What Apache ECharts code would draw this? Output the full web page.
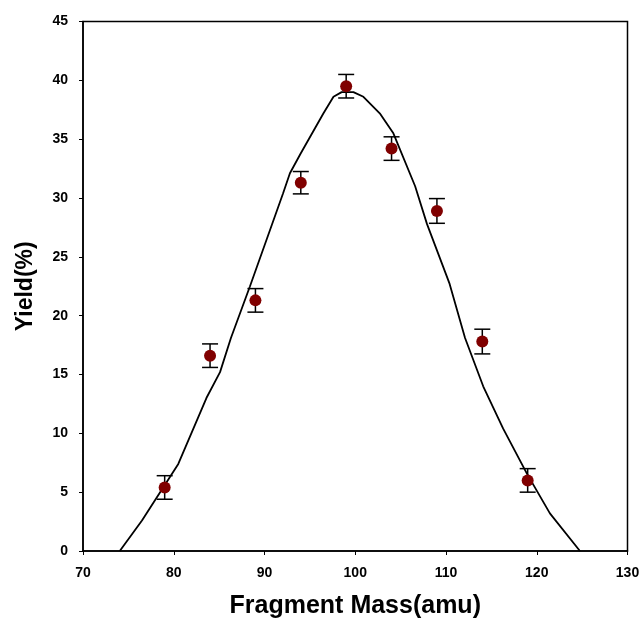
<!DOCTYPE html>
<html>
<head>
<meta charset="utf-8">
<script src="https://cdn.jsdelivr.net/npm/echarts@6/dist/echarts.min.js"></script>
<style>
html,body{margin:0;padding:0;background:#fff;}
#chart{width:641px;height:620px;}
</style>
</head>
<body>
<div id="chart"></div>
<script>
// Measured data points
var massValues = [79, 84, 89, 94, 99, 104, 109, 114, 119];
var yieldValues = [5.4, 16.6, 21.3, 31.3, 39.5, 34.2, 28.9, 17.8, 6.0];
var yieldErrors = [1.0, 1.0, 1.0, 0.95, 1.0, 1.0, 1.05, 1.05, 1.0];

// Calculated curve
var curveMass = [74.05, 76.5, 80.5, 83.6, 85.1, 86.3, 88.4, 92.05, 92.8, 94.0, 96.5, 97.6, 98.5, 99.8, 100.9, 102.7, 104.2, 106.6, 107.9, 110.4, 112.1, 114.1, 116.3, 118.9, 121.45, 124.76];
var curveYield = [0, 2.6, 7.4, 13.0, 15.2, 18.1, 22.5, 30.4, 32.1, 33.8, 37.2, 38.6, 39.0, 39.0, 38.6, 37.2, 35.5, 31.0, 27.8, 22.7, 18.1, 14.0, 10.4, 6.6, 3.2, 0];

var xTicks = { min: 70, max: 130, interval: 10 };
var yTicks = { min: 0, max: 45, interval: 5 };

var curveData = curveMass.map(function (m, i) { return [m, curveYield[i]]; });
var pointData = massValues.map(function (m, i) { return [m, yieldValues[i]]; });
var errData = massValues.map(function (m, i) { return [m, yieldValues[i] - yieldErrors[i], yieldValues[i] + yieldErrors[i]]; });

var chart = echarts.init(document.getElementById('chart'), null, { renderer: 'canvas' });
var labelFont = { fontFamily: 'Liberation Sans, Arial, sans-serif', fontWeight: 'bold', fontSize: 14, color: '#000' };
var yTitleFont = { fontFamily: 'Liberation Sans, Arial, sans-serif', fontWeight: 'bold', fontSize: 23, color: '#000' };
var xTitleFont = { fontFamily: 'Liberation Sans, Arial, sans-serif', fontWeight: 'bold', fontSize: 25, color: '#000' };

chart.setOption({
  animation: false,
  backgroundColor: '#fff',
  grid: { left: 83, top: 21.5, right: 13.5, bottom: 69, containLabel: false, outerBoundsMode: 'none', show: true, borderColor: '#000', borderWidth: 1.5, backgroundColor: 'transparent' },
  xAxis: {
    type: 'value', min: xTicks.min, max: xTicks.max, interval: xTicks.interval,
    name: 'Fragment Mass(amu)', nameLocation: 'middle', nameGap: 43,
    nameTextStyle: xTitleFont,
    axisLine: { show: true, lineStyle: { color: '#000', width: 1.5 } },
    axisTick: { show: true, inside: false, length: 4, lineStyle: { color: '#000', width: 1 } },
    axisLabel: Object.assign({ margin: 15 }, labelFont),
    splitLine: { show: false }
  },
  yAxis: {
    type: 'value', min: yTicks.min, max: yTicks.max, interval: yTicks.interval,
    name: 'Yield(%)', nameLocation: 'middle', nameGap: 46, nameRotate: 90,
    nameTextStyle: yTitleFont,
    axisLine: { show: true, lineStyle: { color: '#000', width: 1.5 } },
    axisTick: { show: true, inside: false, length: 4, lineStyle: { color: '#000', width: 1 } },
    axisLabel: Object.assign({ margin: 15 }, labelFont),
    splitLine: { show: false }
  },
  series: [
    {
      type: 'line', data: curveData, showSymbol: false, symbol: 'none',
      lineStyle: { color: '#000', width: 1.8 }, z: 2
    },
    {
      type: 'custom', data: errData, z: 3,
      renderItem: function (params, api) {
        var x = api.value(0);
        var lo = api.coord([x, api.value(1)]);
        var hi = api.coord([x, api.value(2)]);
        var hw = 8;
        var style = { stroke: '#000', lineWidth: 1.5, fill: null };
        return {
          type: 'group',
          children: [
            { type: 'line', shape: { x1: lo[0], y1: lo[1], x2: hi[0], y2: hi[1] }, style: style },
            { type: 'line', shape: { x1: lo[0] - hw, y1: lo[1], x2: lo[0] + hw, y2: lo[1] }, style: style },
            { type: 'line', shape: { x1: hi[0] - hw, y1: hi[1], x2: hi[0] + hw, y2: hi[1] }, style: style }
          ]
        };
      }
    },
    {
      type: 'scatter', data: pointData, symbol: 'circle', symbolSize: 12,
      itemStyle: { color: '#800000', opacity: 1 }, z: 4
    }
  ]
});
</script>
</body>
</html>
